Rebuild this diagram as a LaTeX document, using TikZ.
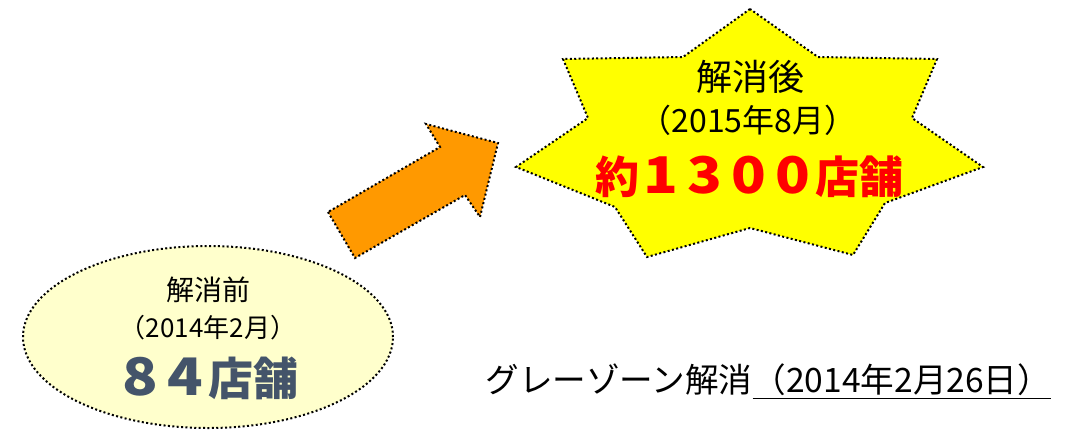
\documentclass[tikz,border=0pt]{standalone}
\usepackage{fontspec}
\setmainfont{Noto Sans CJK JP}
\usetikzlibrary{shapes.geometric, positioning}

\definecolor{paleyellow}{RGB}{255,255,204}
\definecolor{staryellow}{RGB}{255,255,0}
\definecolor{arroworange}{RGB}{255,153,0}
\definecolor{slateblue}{RGB}{68,84,106}

% a wide, heavy digit in a full-width cell
\newcommand{\widedigit}[1]{\makebox[1em]{\scalebox{1.3}[1.15]{#1}}}

\begin{document}
\begin{tikzpicture}[x=0.5pt,y=-0.5pt,
    dotborder/.style={draw=black, line width=1pt, dash pattern=on 1pt off 1.2pt},
    label/.style={inner sep=0pt, font=\fontsize{#1}{#1}\selectfont}]

\useasboundingbox (0,0) rectangle (1069,429);

% before: ellipse
\node[ellipse, dotborder, fill=paleyellow, minimum width=185pt, minimum height=91pt] (before) at (208,337) {};
\node[label=14pt] (beforehead) at (208,290) {解消前};
\node[label=13pt] (beforedate) at (208,328) {（2014年2月）};
\node[label=22.5pt, text=slateblue] (beforecount) at (208,378) {\bfseries\widedigit{8}\widedigit{4}店舗};

% arrow
\draw[dotborder, fill=arroworange] (328,212) -- (355,258) -- (465,195) -- (480,217)
    -- (498,143) -- (426,124) -- (440,147) -- cycle;

% after: star
\draw[dotborder, fill=staryellow] (750,9) -- (683,57) -- (563,59) -- (588,118) -- (516,167)
    -- (615,207) -- (647,257) -- (750,228) -- (853,255) -- (885,203) -- (983,167)
    -- (912,118) -- (937,59) -- (818,57) -- cycle;
\node[label=18pt] (afterhead) at (750,77) {解消後};
\node[label=16pt] (afterdate) at (748,120) {（2015年8月）};
\node[label=22pt, text=red] (aftercount) at (749,177) {\bfseries 約\widedigit{1}\widedigit{3}\widedigit{0}\widedigit{0}店舗};

% date of the change
\node[label=16.8pt, anchor=west] (graytext) at (485,382) {グレーゾーン解消\underline{（2014年2月26日）}};

\end{tikzpicture}
\end{document}
